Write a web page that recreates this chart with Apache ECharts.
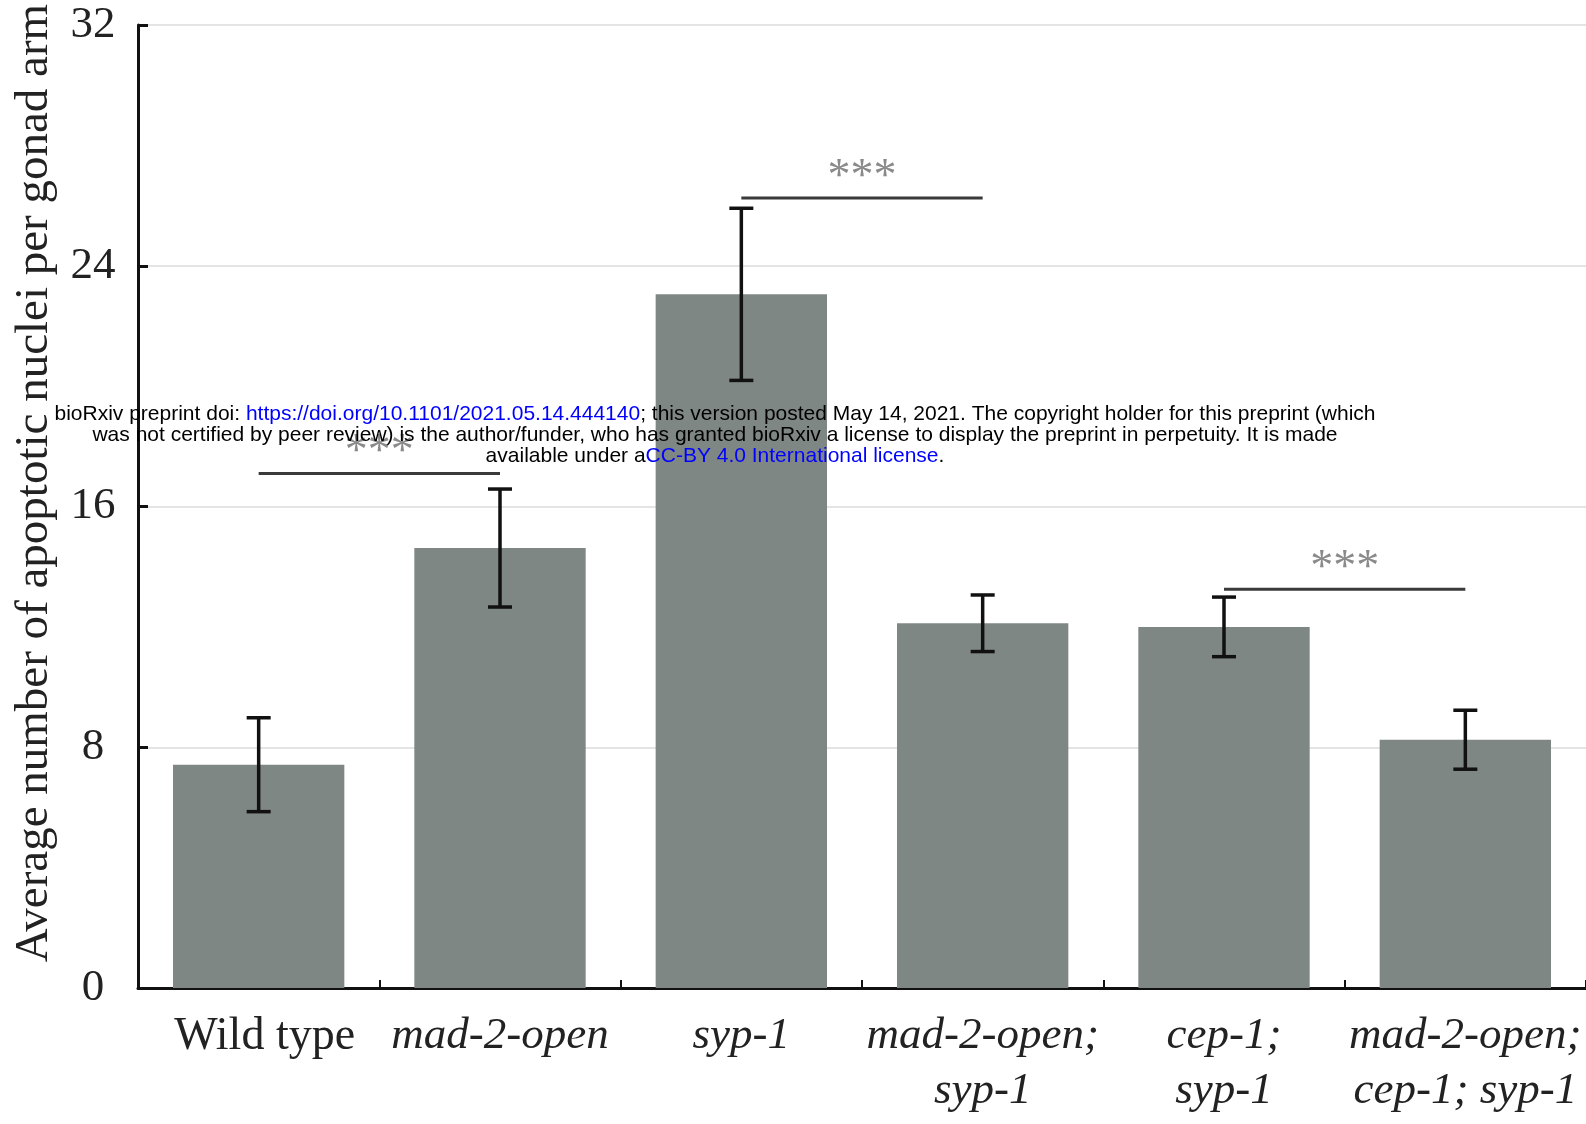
<!DOCTYPE html>
<html>
<head>
<meta charset="utf-8">
<title>Apoptotic nuclei per gonad arm</title>
<script src="https://cdn.jsdelivr.net/npm/echarts@6/dist/echarts.min.js"></script>
<style>
  html, body { margin: 0; padding: 0; background: #fff; }
  #chart { width: 1586px; height: 1124px; }
</style>
</head>
<body>
<div id="chart"></div>
<script>
// data
const categories = ['Wild type', 'mad-2-open', 'syp-1', 'mad-2-open;\nsyp-1', 'cep-1;\nsyp-1', 'mad-2-open;\ncep-1; syp-1'];
const means = [7.42, 14.62, 23.05, 12.12, 12.0, 8.25];
const errors = [1.56, 1.96, 2.86, 0.94, 0.99, 0.98];
// [from category, to category, height of the bracket]
const sigPairs = [[0, 1, 17.1], [2, 3, 26.25], [4, 5, 13.25]];
const sigLabel = '***';
const yTicks = [0, 8, 16, 24, 32];

const serif = '"Liberation Serif", "DejaVu Serif", serif';
const sans = '"Liberation Sans", Arial, sans-serif';

const chart = echarts.init(document.getElementById('chart'));

const wmRich = {
  k: { fontFamily: sans, fontSize: 21, fill: '#000' },
  b: { fontFamily: sans, fontSize: 21, fill: '#0000ff' }
};

const option = {
  animation: false,
  grid: { left: 138, right: 0, top: 25, bottom: 136, containLabel: false },
  xAxis: {
    type: 'category',
    data: categories,
    axisLine: { lineStyle: { color: '#111', width: 3 } },
    axisTick: { show: true, inside: true, length: 8, lineStyle: { color: '#111', width: 2 } },
    axisLabel: {
      margin: 21,
      interval: 0,
      color: '#222',
      lineHeight: 55,
      formatter: (v, idx) => {
        if (idx === 0) return '{n|' + v + '}';
        return v.split('\n').map(s => '{i|' + s + '}').join('\n');
      },
      rich: {
        n: { fontFamily: serif, fontSize: 46, color: '#222', lineHeight: 55, padding: [0, 0, 0, 12] },
        i: { fontFamily: serif, fontSize: 45, fontStyle: 'italic', color: '#222', lineHeight: 55 }
      }
    }
  },
  yAxis: {
    type: 'value',
    min: yTicks[0],
    max: yTicks[yTicks.length - 1],
    interval: 8,
    axisLine: { show: true, lineStyle: { color: '#111', width: 3 } },
    axisTick: { show: true, inside: true, length: 10, lineStyle: { color: '#111', width: 3 } },
    axisLabel: { margin: 45, align: 'center', fontFamily: serif, fontSize: 45, color: '#222' },
    splitLine: { show: true, lineStyle: { color: '#e4e4e4', width: 2 } }
  },
  series: [
    {
      type: 'bar',
      data: means,
      barWidth: '71%',
      itemStyle: { color: '#7f8784' },
      z: 2
    },
    {
      // error bars
      type: 'custom',
      clip: false,
      z: 5,
      data: means.map((m, i) => [i, m, errors[i]]),
      renderItem: (params, api) => {
        const i = api.value(0);
        const m = api.value(1);
        const e = api.value(2);
        const top = api.coord([i, m + e]);
        const bot = api.coord([i, m - e]);
        const cap = 12;
        const style = { stroke: '#111', lineWidth: 3.5 };
        return {
          type: 'group',
          children: [
            { type: 'line', shape: { x1: top[0], y1: top[1], x2: bot[0], y2: bot[1] }, style },
            { type: 'line', shape: { x1: top[0] - cap, y1: top[1], x2: top[0] + cap, y2: top[1] }, style },
            { type: 'line', shape: { x1: bot[0] - cap, y1: bot[1], x2: bot[0] + cap, y2: bot[1] }, style }
          ]
        };
      }
    },
    {
      // significance brackets
      type: 'custom',
      clip: false,
      z: 5,
      data: sigPairs,
      renderItem: (params, api) => {
        const a = api.coord([api.value(0), api.value(2)]);
        const b = api.coord([api.value(1), api.value(2)]);
        return {
          type: 'group',
          children: [
            { type: 'line', shape: { x1: a[0], y1: a[1], x2: b[0], y2: b[1] }, style: { stroke: '#3a3a3a', lineWidth: 3 } },
            {
              type: 'text',
              x: (a[0] + b[0]) / 2,
              y: a[1] - 20,
              style: {
                text: sigLabel,
                fontFamily: serif,
                fontSize: 46,
                fill: '#8a8a8a',
                align: 'center',
                verticalAlign: 'middle'
              }
            }
          ]
        };
      }
    }
  ],
  graphic: [
    {
      type: 'text',
      x: 35,
      y: 483,
      rotation: Math.PI / 2,
      style: {
        text: 'Average number of apoptotic nuclei per gonad arm',
        fontFamily: serif,
        fontSize: 47,
        fill: '#222',
        align: 'center',
        verticalAlign: 'middle'
      },
      z: 10
    },
    // preprint watermark printed over the figure
    {
      type: 'text',
      x: 715,
      y: 414,
      z: 100,
      style: {
        text: '{k|bioRxiv preprint doi: }{b|https://doi.org/10.1101/2021.05.14.444140}{k|; this version posted May 14, 2021. The copyright holder for this preprint (which}',
        align: 'center',
        verticalAlign: 'middle',
        rich: wmRich
      }
    },
    {
      type: 'text',
      x: 715,
      y: 435,
      z: 100,
      style: {
        text: 'was not certified by peer review) is the author/funder, who has granted bioRxiv a license to display the preprint in perpetuity. It is made',
        fontFamily: sans,
        fontSize: 21,
        fill: '#000',
        align: 'center',
        verticalAlign: 'middle'
      }
    },
    {
      type: 'text',
      x: 715,
      y: 456,
      z: 100,
      style: {
        text: '{k|available under a}{b|CC-BY 4.0 International license}{k|.}',
        align: 'center',
        verticalAlign: 'middle',
        rich: wmRich
      }
    }
  ]
};

chart.setOption(option);
window.addEventListener('resize', () => chart.resize());
</script>
</body>
</html>
